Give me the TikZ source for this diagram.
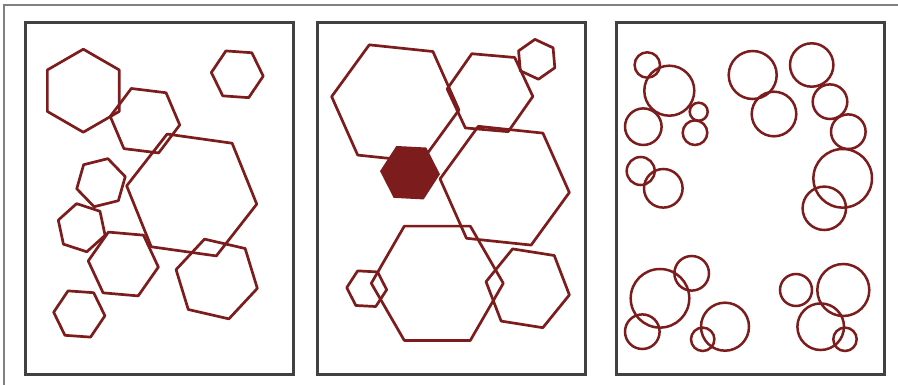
\documentclass[tikz,border=0pt]{standalone}
\usetikzlibrary{
    calc
}
\definecolor{hexred}{RGB}{125,28,28}
\definecolor{framegrey}{RGB}{65,65,65}
\tikzset{
  outerline/.style={
    gray,
    line width=1.3pt
  },
  panel/.style={
    framegrey,
    line width=3pt
  },
  hexline/.style={
    hexred,
    line width=2.7pt,
    line join=round
  },
  ringline/.style={
    hexred,
    line width=2.5pt
  }
}

\begin{document}
\begin{tikzpicture}[x=1pt,y=-1pt]
\useasboundingbox (0,0) rectangle (898,385);
\draw[outerline] (4,385) -- (4,5) -- (898,5);
\foreach \px in {25,317,616} {
\draw[panel] (\px,23) rectangle ++(268,351);
}
% left panel
\foreach \cx/\cy/\r/\a in {83.3/90.7/41.5/30, 237.3/74.3/26/4, 145/120.7/35/7,
    191.7/195/65.7/8, 101/182.7/25/46, 81.7/227.7/24.6/18, 123.3/264/35.2/5,
    216.7/279/41.7/13, 79.3/314/25.7/4} {
\draw[hexline,shift={(\cx,\cy)}] (\a:\r) -- (\a+60:\r) -- (\a+120:\r) --
    (\a+180:\r) -- (\a+240:\r) -- (\a+300:\r) -- cycle;
}
% middle panel
\foreach \cx/\cy/\r/\a in {395.3/103.3/64/6, 490/92.7/43/5, 536.7/59.3/20/25,
    504.7/185.7/65/6, 437.3/283.3/66/0, 366.7/288.7/20/3, 527.7/288.3/42.2/9} {
\draw[hexline,shift={(\cx,\cy)}] (\a:\r) -- (\a+60:\r) -- (\a+120:\r) --
    (\a+180:\r) -- (\a+240:\r) -- (\a+300:\r) -- cycle;
}
\fill[hexred,shift={(410,172.7)}] (3:30) -- (63:30) -- (123:30) --
    (183:30) -- (243:30) -- (303:30) -- cycle;
% right panel
\foreach \cx/\cy/\r in {647.3/65/12.7, 669.3/90.7/25, 643.3/126.7/18.3,
    698.7/111.7/9, 695/132.7/12.3, 640.7/171/14, 663.3/188.3/19.3,
    752.7/75/24, 774/114/22.3, 811.7/65/21.7, 830/101.7/17.3,
    848.3/131.7/17.3, 842.7/178.3/29.3, 824.3/208.3/21.7,
    660/298.3/29.3, 691.7/273.3/17.3, 642.3/331.7/17.3, 725/326.7/24,
    702.7/339.3/11.7, 796/290/16, 843.3/290/26, 820.7/326.7/23.3,
    845/339.3/11.7} {
\draw[ringline] (\cx,\cy) circle (\r);
}
\end{tikzpicture}
\end{document}
